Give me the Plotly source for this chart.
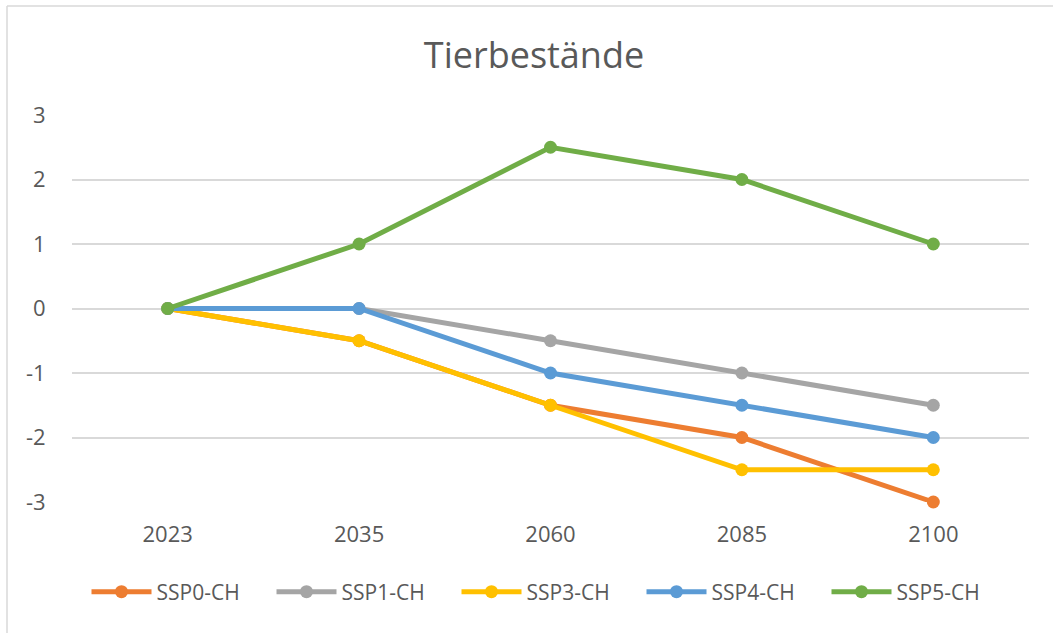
import plotly.graph_objects as go

years = ["2023", "2035", "2060", "2085", "2100"]
series_names = ["SSP0-CH", "SSP1-CH", "SSP3-CH", "SSP4-CH", "SSP5-CH"]
ssp0 = [0, -0.5, -1.5, -2, -3]
ssp1 = [0, 0, -0.5, -1, -1.5]
ssp3 = [0, -0.5, -1.5, -2.5, -2.5]
ssp4 = [0, 0, -1, -1.5, -2]
ssp5 = [0, 1, 2.5, 2, 1]
y_ticks = [-3, -2, -1, 0, 1, 2, 3]
y_tick_labels = ["-3", "-2", "-1", "0", "1", "2", "3"]
colors = ["#ED7D31", "#A5A5A5", "#FFC000", "#5B9BD5", "#70AD47"]
values = [ssp0, ssp1, ssp3, ssp4, ssp5]

FONT = "Open Sans"
TXT = "#595959"

fig = go.Figure()
for name, vals, col in zip(series_names, values, colors):
    fig.add_trace(go.Scatter(
        x=years, y=vals, name=name, mode="lines+markers", cliponaxis=False,
        line=dict(color=col, width=5),
        marker=dict(color=col, size=13),
    ))

W, H = 1053, 633
L, R, T, B = 72, 1029, 115, 502
fig.update_layout(
    width=W, height=H,
    margin=dict(l=L, r=W - R, t=T, b=H - B, pad=0),
    paper_bgcolor="white", plot_bgcolor="white",
    font=dict(family=FONT, color=TXT, size=22),
    title=dict(text="Tierbestände", x=534 / W, xref="container", xanchor="center",
               y=1 - 55 / H, yref="container", yanchor="middle",
               font=dict(family=FONT, size=36, color=TXT)),
    xaxis=dict(type="category", range=[-0.5, 4.5], showgrid=False, zeroline=False,
               showline=False, ticks="outside", ticklen=13, tickcolor="rgba(0,0,0,0)",
               tickfont=dict(size=22, color=TXT, family=FONT)),
    yaxis=dict(range=[-3, 3], tickmode="array", tickvals=y_ticks, ticktext=y_tick_labels,
               showgrid=True, gridcolor="#D9D9D9",
               gridwidth=1.5, zeroline=False, showline=False, ticks="outside", ticklen=21,
               tickcolor="rgba(0,0,0,0)", tickfont=dict(size=22, color=TXT, family=FONT)),
    legend=dict(orientation="h", x=549 / W, xref="container", xanchor="center",
                y=1 - 592 / H, yref="container", yanchor="middle",
                entrywidth=110, font=dict(size=21, color=TXT, family=FONT),
                itemwidth=60),
    showlegend=True,
)
# chart-area frame (left and top edges visible in the reference)
fig.add_shape(type="line", xref="paper", yref="paper",
              x0=(7 - L) / (R - L), x1=(7 - L) / (R - L),
              y0=(B - H) / (B - T), y1=(B - 6) / (B - T),
              line=dict(color="#D9D9D9", width=1.5))
fig.add_shape(type="line", xref="paper", yref="paper",
              x0=(7 - L) / (R - L), x1=(W - L) / (R - L),
              y0=(B - 6) / (B - T), y1=(B - 6) / (B - T),
              line=dict(color="#D9D9D9", width=1.5))

fig.write_html("out.html", config={"displayModeBar": False},
               post_script="document.body.style.margin='0';document.body.style.overflow='hidden';")
